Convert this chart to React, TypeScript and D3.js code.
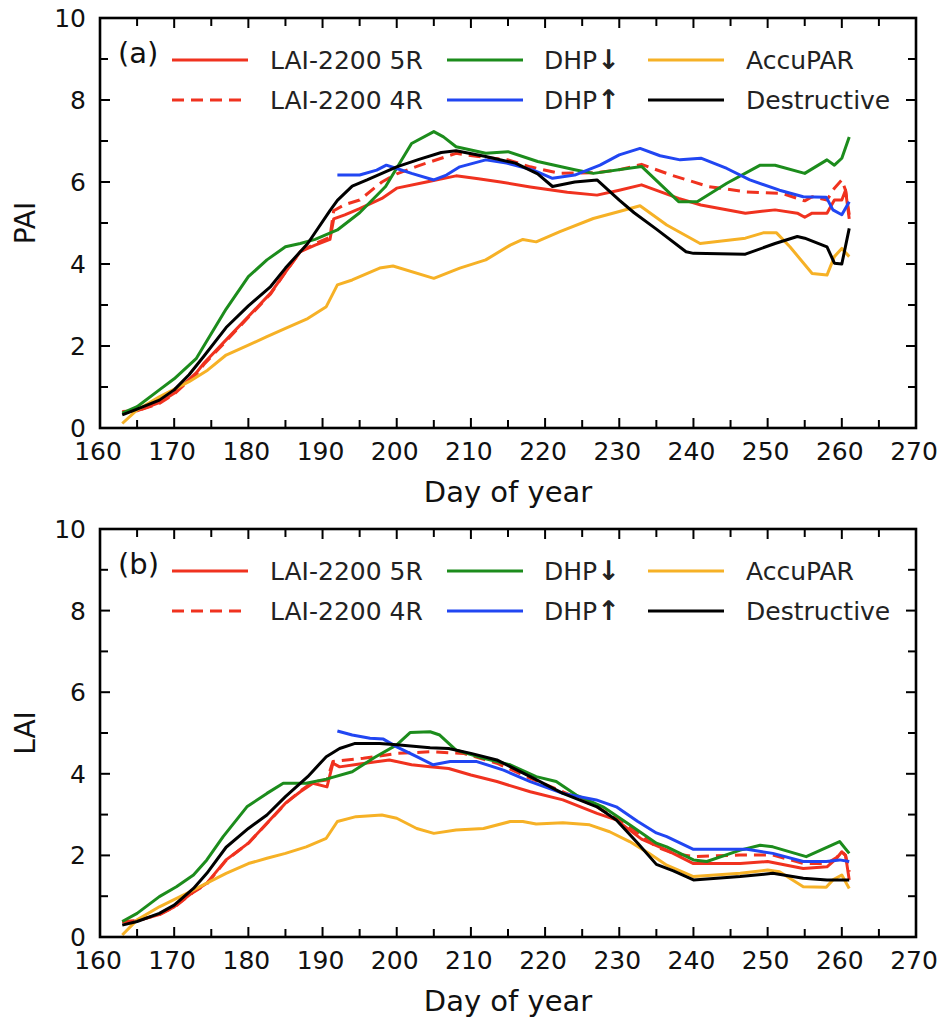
import React from "react";
import * as d3 from "d3";

// ---------- Data (panel a: PAI) ----------
const pai5RDay = [163,165,168,170,173,174,177,180,183,185,187,189,191,191.5,193,195,198,200,204,208,211,214,218,223,227,230,233,238,241,247,251,254,255,256,258,259,260,260.5,261];
const pai5R = [0.4,0.42,0.62,0.85,1.35,1.58,2.15,2.72,3.29,3.8,4.3,4.46,4.6,5.1,5.2,5.35,5.6,5.85,6.0,6.15,6.08,6.0,5.88,5.75,5.68,5.8,5.93,5.6,5.44,5.24,5.32,5.24,5.14,5.24,5.24,5.56,5.56,5.8,5.1];

const pai4RDay = [163,165,168,170,173,174,177,180,183,185,187,189,191,191.5,193,195,198,200,203,208,211,215,218,222,227,230,233,237,242,247,252,255,256,258,259,260,260.5,261];
const pai4R = [0.38,0.42,0.6,0.83,1.32,1.55,2.12,2.7,3.27,3.8,4.3,4.5,4.65,5.3,5.45,5.56,6.0,6.2,6.4,6.7,6.62,6.54,6.37,6.21,6.23,6.3,6.43,6.17,5.89,5.76,5.72,5.54,5.64,5.56,5.85,6.05,5.8,5.2];

const paiDhpDownDay = [163,165,168,170,173,174.5,177,180,182.5,185,187,189,192,195,198.5,202,205,206.3,208,212,215,219,224,226.5,233,238,240.5,244.5,249,251,255,258,259,260,261];
const paiDhpDown = [0.36,0.52,0.93,1.2,1.7,2.15,2.9,3.69,4.1,4.42,4.5,4.6,4.83,5.25,5.89,6.94,7.23,7.1,6.86,6.7,6.74,6.5,6.3,6.21,6.38,5.52,5.52,5.97,6.41,6.41,6.21,6.54,6.41,6.58,7.1];

const paiDhpUpDay = [192,195,197.3,198.6,200,202,205,206.7,208.5,212,214.8,218.4,221,224,227.4,230,232.8,235.5,238.2,241,244.5,247.6,251.6,254.8,257.9,258.8,260,261];
const paiDhpUp = [6.17,6.17,6.29,6.41,6.33,6.21,6.05,6.17,6.37,6.54,6.46,6.29,6.09,6.17,6.41,6.66,6.82,6.64,6.54,6.58,6.33,6.05,5.8,5.64,5.63,5.32,5.2,5.52];

const paiAccuDay = [163,165,168,172,174.5,177,180,182.5,185,188,190.5,192,194,197.7,199.5,205,208.5,212,215.3,217,218.8,222,226.5,230,232.8,236.4,240.9,247,249.4,251.2,253,256,258,259,260,261];
const paiAccu = [0.11,0.44,0.76,1.13,1.41,1.78,2.02,2.23,2.43,2.67,2.96,3.49,3.61,3.9,3.95,3.65,3.9,4.1,4.46,4.6,4.54,4.79,5.11,5.28,5.42,4.95,4.5,4.63,4.76,4.76,4.42,3.77,3.73,4.18,4.38,4.18];

const paiDestrDay = [163,165,168,170,172,174,177,180,183,185,188,191,192,194,196,200,203,206,208,212,216,219,221,224,227,230,232,235,239,240,247,251,254,255,258,259,260,261];
const paiDestr = [0.32,0.46,0.68,0.93,1.3,1.75,2.45,2.98,3.45,3.9,4.5,5.3,5.55,5.9,6.05,6.37,6.55,6.72,6.76,6.62,6.46,6.2,5.89,6.0,6.05,5.56,5.25,4.85,4.3,4.26,4.24,4.5,4.67,4.63,4.42,4.02,4.0,4.87];

// ---------- Data (panel b: LAI) ----------
const lai5RDay = [163,165,168,170,172.6,174.4,177,180,182.5,185,187,188.7,190.6,191.4,192.3,195,199,202,204.5,207,210,213.5,218,222.4,227,229.6,233,236.4,240,246.3,250,254.8,258,259.3,260,260.5,261];
const lai5R = [0.38,0.4,0.55,0.74,1.11,1.32,1.89,2.3,2.79,3.28,3.56,3.77,3.68,4.26,4.17,4.24,4.34,4.22,4.17,4.13,3.97,3.81,3.56,3.36,3.03,2.87,2.4,2.13,1.8,1.8,1.85,1.68,1.72,1.93,2.09,2.0,1.4];

const lai4RDay = [163,165,168,170,172.6,174.4,177,180,182.5,185,187,188.7,190.6,191.4,192.3,195.5,200,204.5,209,213.5,218,222.4,227,231.4,235,237.3,240,246.3,250.7,254.8,258,259.3,260,260.5,261];
const lai4R = [0.36,0.4,0.55,0.73,1.1,1.3,1.88,2.3,2.78,3.27,3.58,3.8,3.85,4.3,4.32,4.38,4.5,4.54,4.5,4.26,3.89,3.56,3.19,2.7,2.21,2.05,1.97,2.01,2.01,1.8,1.8,1.95,2.09,2.0,1.6];

const laiDhpDownDay = [163,165,168,170.3,172.6,174.4,176.6,179.8,182.5,184.7,187.8,190.5,194,197,200,201.8,204.5,205.8,208,211.7,215.3,218.8,221.5,224.2,227.8,231.4,235,236.4,240,241.8,246.3,249,250.7,255.2,259.7,261];
const laiDhpDown = [0.38,0.58,0.99,1.23,1.52,1.89,2.46,3.19,3.52,3.77,3.77,3.87,4.05,4.4,4.71,5.01,5.03,4.95,4.58,4.38,4.22,3.93,3.81,3.48,3.19,2.75,2.3,2.21,1.89,1.85,2.13,2.25,2.21,1.97,2.34,2.05];

const laiDhpUpDay = [192,194,196.4,198.2,200,202.7,204.9,207.2,210.8,214.4,218,222.4,226.9,229.6,232.5,235,236.4,240,247.2,250.7,254.8,257.9,259.7,261];
const laiDhpUp = [5.05,4.95,4.87,4.85,4.66,4.42,4.22,4.3,4.3,4.09,3.81,3.52,3.36,3.19,2.83,2.55,2.46,2.15,2.15,2.05,1.85,1.85,1.89,1.85];

const laiAccuDay = [163,165,168,171.7,174.4,177,180,182.5,185,187.8,190.5,192,194.5,198,200,202.7,205,208,211.7,215.3,217,218.8,222.4,226,228.7,231.4,234,236.4,240,246.3,250,251.6,254.8,257.9,258.8,260,261];
const laiAccu = [0.05,0.42,0.74,1.07,1.32,1.56,1.8,1.93,2.05,2.21,2.42,2.83,2.95,2.99,2.91,2.66,2.54,2.62,2.66,2.83,2.83,2.77,2.8,2.75,2.58,2.34,2.05,1.76,1.48,1.56,1.64,1.6,1.23,1.22,1.4,1.52,1.19];

const laiDestrDay = [163,165,168,170,172.6,174.4,177,180,182.5,185,188,190.5,192.3,194.3,197.7,200,204.5,207,210,213.5,218,222.4,227,229.6,232.5,235,237.3,240,246.3,250.7,254.8,258,261];
const laiDestr = [0.29,0.38,0.58,0.78,1.19,1.56,2.2,2.66,2.99,3.44,3.93,4.42,4.62,4.74,4.74,4.71,4.64,4.62,4.5,4.34,3.93,3.52,3.19,2.87,2.3,1.78,1.62,1.4,1.48,1.56,1.44,1.4,1.4];

// ---------- Axis ticks ----------
const xMajorTicks = [160,170,180,190,200,210,220,230,240,250,260,270];
const xMinorTicks = [165,175,185,195,205,215,225,235,245,255,265];
const yMajorTicks = [0,2,4,6,8,10];
const yMinorTicks = [1,3,5,7,9];

const seriesNames = ["LAI-2200 5R","LAI-2200 4R","DHP","DHP","AccuPAR","Destructive"];
const seriesArrows = ["","","↓","↑","",""];

const COLORS = {
  red: "#f0321f",
  green: "#1c8c1c",
  blue: "#2146f2",
  orange: "#f6b126",
  black: "#000000",
};

const FONT = "'DejaVu Sans', sans-serif";

type Series = { day: number[]; val: number[]; color: string; dash?: string };

const W = 944;
const H = 1021;
const LEFT = 100;
const RIGHT = 916;

function Panel({ top, bottom, label, yTitle, series }: { top: number; bottom: number; label: string; yTitle: string; series: Series[] }) {
  const x = d3.scaleLinear().domain([160, 270]).range([LEFT, RIGHT]);
  const y = d3.scaleLinear().domain([0, 10]).range([bottom, top]);
  const line = d3.line<[number, number]>().x((d) => x(d[0])).y((d) => y(d[1]));
  const majorLen = 10;
  const minorLen = 8;
  const legendCols = [
    { hx: 172, tx: 270 },
    { hx: 447, tx: 544 },
    { hx: 648, tx: 746 },
  ];
  const legendRows = [top + 42, top + 82];
  const legendItems = series.map((s, i) => ({
    s,
    name: seriesNames[i],
    arrow: seriesArrows[i],
    col: legendCols[Math.floor(i / 2)],
    row: legendRows[i % 2],
  }));
  return (
    <g>
      {series.map((s, i) => (
        <path
          key={i}
          d={line(s.day.map((d, j) => [d, s.val[j]] as [number, number])) || ""}
          fill="none"
          stroke={s.color}
          strokeWidth={3}
          strokeDasharray={s.dash}
          strokeLinejoin="round"
        />
      ))}
      {/* ticks */}
      {xMajorTicks.map((t) => (
        <g key={"xm" + t}>
          <line x1={x(t)} x2={x(t)} y1={bottom} y2={bottom - majorLen} stroke="#000" strokeWidth={2} />
          <line x1={x(t)} x2={x(t)} y1={top} y2={top + majorLen} stroke="#000" strokeWidth={2} />
          <text x={x(t) - 2} y={bottom + 32} textAnchor="middle" fontSize={25} fontFamily={FONT} fill="#111">{t}</text>
        </g>
      ))}
      {xMinorTicks.map((t) => (
        <g key={"xn" + t}>
          <line x1={x(t)} x2={x(t)} y1={bottom} y2={bottom - minorLen} stroke="#000" strokeWidth={2} />
          <line x1={x(t)} x2={x(t)} y1={top} y2={top + minorLen} stroke="#000" strokeWidth={2} />
        </g>
      ))}
      {yMajorTicks.map((t) => (
        <g key={"ym" + t}>
          <line x1={LEFT} x2={LEFT + majorLen} y1={y(t)} y2={y(t)} stroke="#000" strokeWidth={2} />
          <line x1={RIGHT} x2={RIGHT - majorLen} y1={y(t)} y2={y(t)} stroke="#000" strokeWidth={2} />
          <text x={86} y={y(t) + 9} textAnchor="end" fontSize={25} fontFamily={FONT} fill="#111">{t}</text>
        </g>
      ))}
      {yMinorTicks.map((t) => (
        <g key={"yn" + t}>
          <line x1={LEFT} x2={LEFT + minorLen} y1={y(t)} y2={y(t)} stroke="#000" strokeWidth={2} />
          <line x1={RIGHT} x2={RIGHT - minorLen} y1={y(t)} y2={y(t)} stroke="#000" strokeWidth={2} />
        </g>
      ))}
      <rect x={LEFT} y={top} width={RIGHT - LEFT} height={bottom - top} fill="none" stroke="#000" strokeWidth={2.6} />
      {/* panel label */}
      <text x={118} y={top + 45} fontSize={29} fontFamily={FONT} fill="#111">{label}</text>
      {/* legend */}
      {legendItems.map((it, i) => (
        <g key={"lg" + i}>
          <line x1={it.col.hx} x2={it.col.hx + 76} y1={it.row} y2={it.row} stroke={it.s.color} strokeWidth={3} strokeDasharray={it.s.dash} />
          <text x={it.col.tx} y={it.row + 9} fontSize={25} fontFamily={FONT} fill="#222">
            {it.name}
            {it.arrow ? <tspan fontWeight="bold" fontSize={27}>{it.arrow}</tspan> : null}
          </text>
        </g>
      ))}
      {/* axis titles */}
      <text x={(LEFT + RIGHT) / 2} y={bottom + 74} textAnchor="middle" fontSize={29} fontFamily={FONT} fill="#111">Day of year</text>
      <text transform={`translate(35,${(top + bottom) / 2}) rotate(-90)`} textAnchor="middle" fontSize={28} fontFamily={FONT} fill="#111">{yTitle}</text>
    </g>
  );
}

export default function App() {
  const paiSeries: Series[] = [
    { day: pai5RDay, val: pai5R, color: COLORS.red },
    { day: pai4RDay, val: pai4R, color: COLORS.red, dash: "12,7" },
    { day: paiDhpDownDay, val: paiDhpDown, color: COLORS.green },
    { day: paiDhpUpDay, val: paiDhpUp, color: COLORS.blue },
    { day: paiAccuDay, val: paiAccu, color: COLORS.orange },
    { day: paiDestrDay, val: paiDestr, color: COLORS.black },
  ];
  const laiSeries: Series[] = [
    { day: lai5RDay, val: lai5R, color: COLORS.red },
    { day: lai4RDay, val: lai4R, color: COLORS.red, dash: "12,7" },
    { day: laiDhpDownDay, val: laiDhpDown, color: COLORS.green },
    { day: laiDhpUpDay, val: laiDhpUp, color: COLORS.blue },
    { day: laiAccuDay, val: laiAccu, color: COLORS.orange },
    { day: laiDestrDay, val: laiDestr, color: COLORS.black },
  ];
  return (
    <svg width={W} height={H} style={{ position: "absolute", left: 0, top: 0, background: "#fff" }}>
      <rect x={0} y={0} width={W} height={H} fill="#fff" />
      <Panel top={18} bottom={428} label="(a)" yTitle="PAI" series={paiSeries} />
      <Panel top={529} bottom={937} label="(b)" yTitle="LAI" series={laiSeries} />
    </svg>
  );
}
